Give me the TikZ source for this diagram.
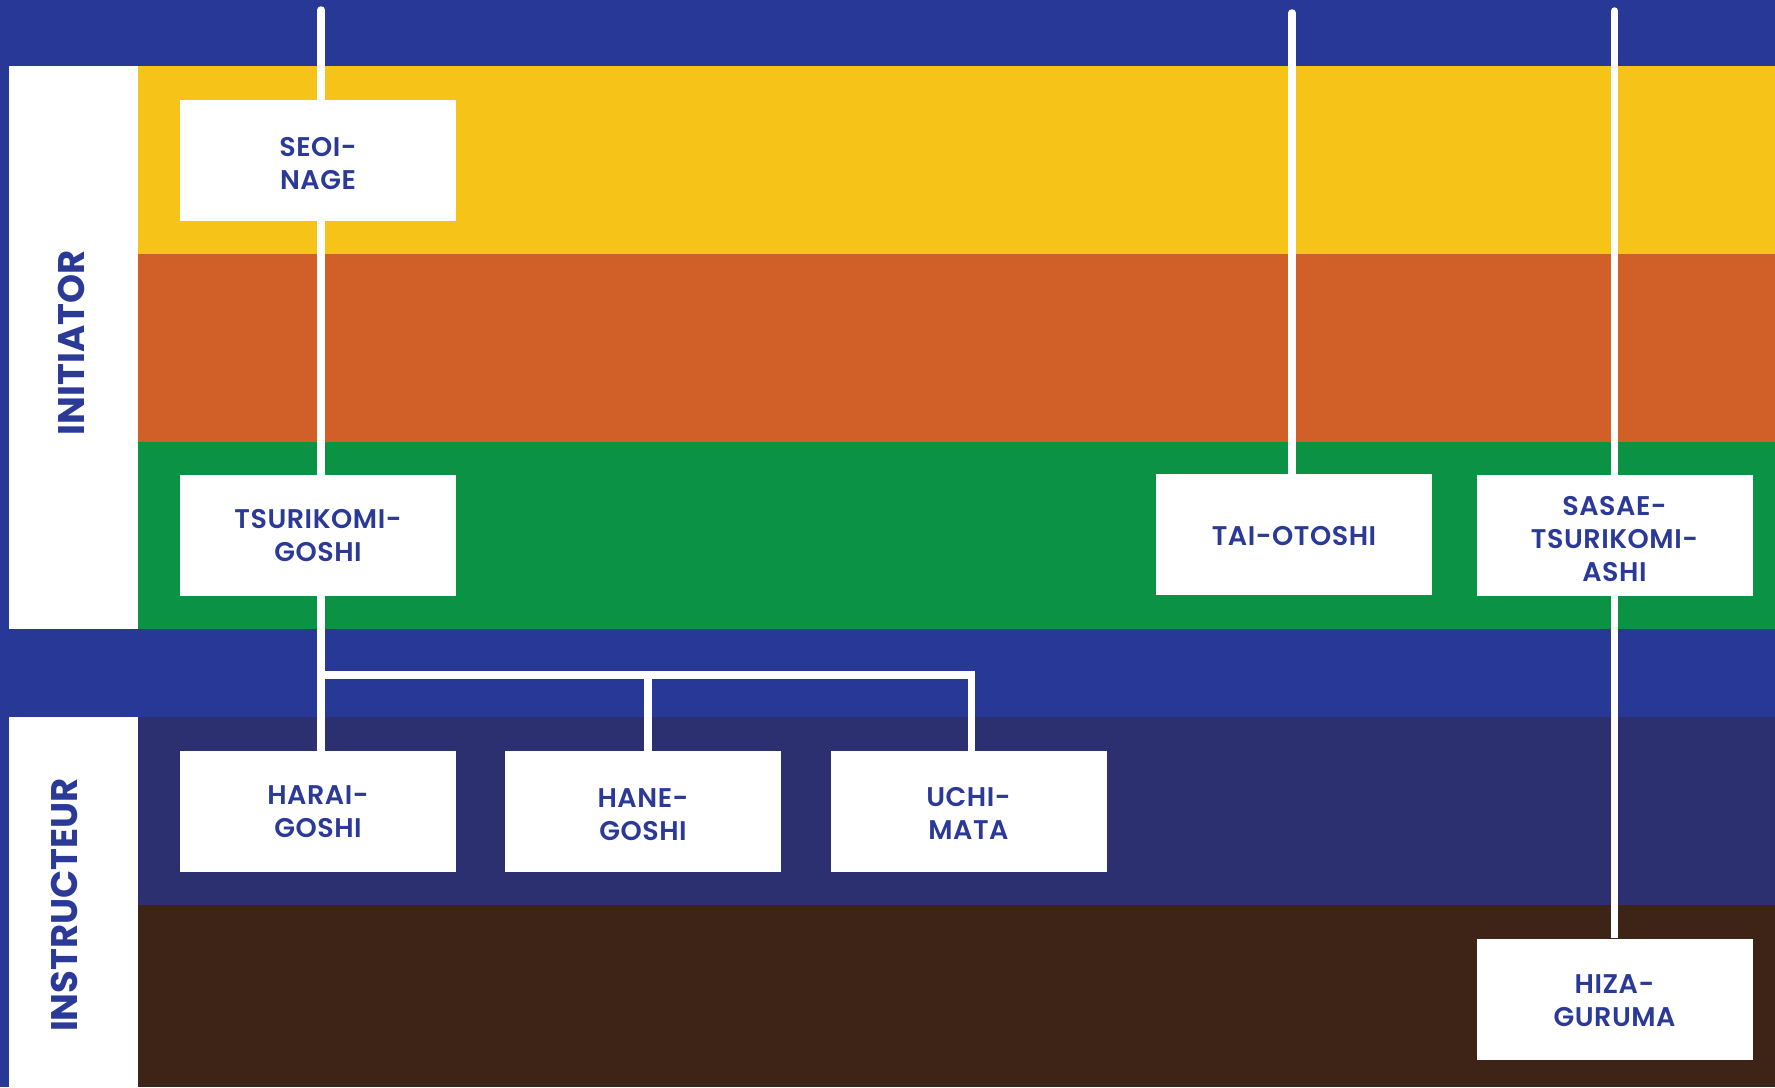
\documentclass[tikz,border=0pt]{standalone}
\usepackage{fontspec}
\setmainfont{Poppins}
\newfontfamily\popsb{Poppins SemiBold}[LetterSpace=2]
\newcommand\tup{\rule{0pt}{26pt}}
\usetikzlibrary{calc}
\definecolor{topblue}{HTML}{283896}
\definecolor{jyellow}{HTML}{F6C418}
\definecolor{jorange}{HTML}{D15F28}
\definecolor{jgreen}{HTML}{0C9244}
\definecolor{jnavy}{HTML}{2D3070}
\definecolor{jbrown}{HTML}{3D2416}
\definecolor{txtblue}{HTML}{2B3A96}
\tikzset{
  tech/.style={fill=white, minimum width=276pt, minimum height=121pt, inner sep=0pt,
    align=center, text=txtblue, font=\popsb\fontsize{27}{33}\selectfont},
  grade/.style={rotate=90, text=txtblue, font=\fontsize{37}{40}\selectfont\bfseries},
  link/.style={draw=white, line width=7.5pt, line cap=butt},
  toplink/.style={draw=white, line width=7.5pt, line cap=round}
}
\begin{document}
\begin{tikzpicture}[x=1pt,y=-1pt]
\useasboundingbox (0,0) rectangle (1775,1087);
% bands
\fill[topblue] (0,0) rectangle (1775,1087);
\fill[jyellow] (138,66) rectangle (1775,254);
\fill[jorange] (138,254) rectangle (1775,442);
\fill[jgreen] (138,442) rectangle (1775,629);
\fill[jnavy] (138,717) rectangle (1775,905);
\fill[jbrown] (138,905) rectangle (1775,1087);
\fill[white] (9,66) rectangle (138,629);
\fill[white] (9,717) rectangle (138,1087);
\node[grade] (ini) at (71,343) {INITIATOR};
\node[grade] (ins) at (64,905) {INSTRUCTEUR};
% technique boxes
\node[tech] (seoi) at (318,160.5) {\tup SEOI-\\NAGE};
\node[tech] (tsuri) at (318,535.5) {TSURIKOMI-\\GOSHI};
\node[tech] (tai) at (1294,534.5) {\rule{0pt}{22pt}TAI-OTOSHI};
\node[tech] (sasae) at (1614.5,535.5) {\tup SASAE-\\TSURIKOMI-\\ASHI};
\node[tech] (harai) at (318,811.5) {HARAI-\\GOSHI};
\node[tech] (hane) at (643,811.5) {\tup HANE-\\GOSHI};
\node[tech] (uchi) at (968.5,811.5) {\rule{0pt}{23pt}UCHI-\\MATA};
\node[tech] (hiza) at (1614.5,999) {\rule{0pt}{23pt}HIZA-\\GURUMA};
% free ends
\coordinate (t1) at (321,10);
\coordinate (t2) at (1292,13);
\coordinate (t3) at (1614.5,11);
\coordinate (br) at (321,675);
% connectors
\draw[toplink] (t1) -- ([xshift=3pt]seoi.north);
\draw[toplink] (t2) -- ([xshift=-2pt]tai.north);
\draw[toplink] (t3) -- (sasae.north);
\draw[link] ([xshift=3pt]seoi.south) -- ([xshift=3pt]tsuri.north);
\draw[link] ([xshift=3pt]tsuri.south) -- ([xshift=3pt]harai.north);
\draw[link, line join=miter] (br) -| ([xshift=3pt]uchi.north);
\draw[link] ([xshift=5pt]hane.north |- br) -- ([xshift=5pt]hane.north);
\draw[link] (sasae.south) -- (hiza.north);
\end{tikzpicture}
\end{document}
